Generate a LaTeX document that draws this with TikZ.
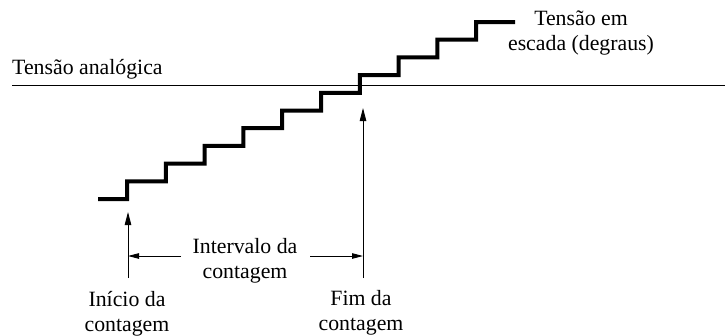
\documentclass[tikz,border=0pt]{standalone}
\usepackage{fontspec}
\setmainfont{Liberation Serif}
\usetikzlibrary{arrows.meta}
\begin{document}
\begin{tikzpicture}[x=1pt,y=-1pt,
  lbl/.style={inner sep=0pt,align=center,font=\fontsize{21.8}{24.5}\selectfont},
  stair/.style={line width=4pt,line join=miter,line cap=butt},
  refline/.style={line width=0.9pt},
  marker/.style={line width=0.9pt,-{Triangle[length=13pt,width=6.5pt]}},
  span/.style={line width=0.9pt,-{Triangle[length=11pt,width=5.5pt]}}]
\useasboundingbox (0,0) rectangle (725,335);
% reference line
\coordinate (refL) at (12,85.5);
\coordinate (refR) at (725,85.5);
\draw[refline] (refL) -- (refR);
% staircase
\draw[stair] (98,199)
  \foreach \k in {0,...,9} {
    -- ({127+38.8*\k},{199-17.7*\k}) -- ({127+38.8*\k},{199-17.7*(\k+1)})
  } -- (515,22);
% labels (base = baseline of last line)
\node[lbl,anchor=base west] (analog) at (12,74) {Tensão analógica};
\node[lbl,anchor=base] (escada) at (581,50) {Tensão em\\escada (degraus)};
\node[lbl,anchor=base] (interv) at (245,278) {Intervalo da\\contagem};
\node[lbl,anchor=base] (inicio) at (127,331) {Início da\\contagem};
\node[lbl,anchor=base] (fim) at (361,330) {Fim da\\contagem};
% markers
\coordinate (iniTop) at (128,212);
\coordinate (iniBot) at (128,278);
\coordinate (fimTop) at (363,108);
\coordinate (fimBot) at (363,278);
\draw[marker] (iniBot) -- (iniTop);
\draw[marker] (fimBot) -- (fimTop);
% interval arrows
\coordinate (spanL) at (181,256);
\coordinate (spanLend) at (128,256);
\coordinate (spanR) at (310,256);
\coordinate (spanRend) at (363,256);
\draw[span] (spanL) -- (spanLend);
\draw[span] (spanR) -- (spanRend);
\end{tikzpicture}
\end{document}
